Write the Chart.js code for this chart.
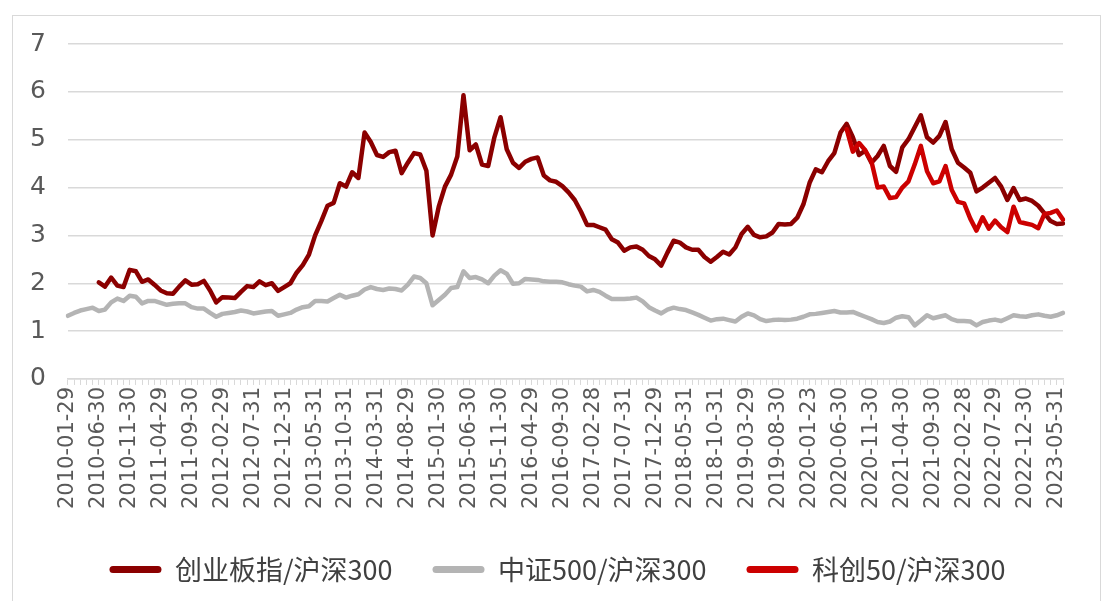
<!DOCTYPE html>
<html>
<head>
<meta charset="utf-8">
<script src="https://cdn.jsdelivr.net/npm/chart.js@4"></script>
<style>
    html, body { margin: 0; padding: 0; background: #ffffff; }
    #wrap { position: relative; width: 1112px; height: 601px; overflow: hidden; }
    #frame { position: absolute; left: 12px; top: 15px; width: 1087px; height: 620px; border: 1px solid #d9d9d9; }
    #ratioChart { position: absolute; left: 0; top: 0; }
</style>
</head>
<body>
<div id="wrap">
    <div id="frame"></div>
    <canvas id="ratioChart" width="1112" height="601"></canvas>
</div>
<script>
// month-end dates, 2010-01 .. 2023-06
const dates = [
    '2010-01-29', '2010-02-26', '2010-03-31', '2010-04-30', '2010-05-31', '2010-06-30', '2010-07-30', '2010-08-31', '2010-09-30', '2010-10-29', '2010-11-30', '2010-12-31',
    '2011-01-31', '2011-02-28', '2011-03-31', '2011-04-29', '2011-05-31', '2011-06-30', '2011-07-29', '2011-08-31', '2011-09-30', '2011-10-31', '2011-11-30', '2011-12-30',
    '2012-01-31', '2012-02-29', '2012-03-30', '2012-04-27', '2012-05-31', '2012-06-29', '2012-07-31', '2012-08-31', '2012-09-28', '2012-10-31', '2012-11-30', '2012-12-31',
    '2013-01-31', '2013-02-28', '2013-03-29', '2013-04-26', '2013-05-31', '2013-06-28', '2013-07-31', '2013-08-30', '2013-09-30', '2013-10-31', '2013-11-29', '2013-12-31',
    '2014-01-30', '2014-02-28', '2014-03-31', '2014-04-30', '2014-05-30', '2014-06-30', '2014-07-31', '2014-08-29', '2014-09-30', '2014-10-31', '2014-11-28', '2014-12-31',
    '2015-01-30', '2015-02-27', '2015-03-31', '2015-04-30', '2015-05-29', '2015-06-30', '2015-07-31', '2015-08-31', '2015-09-30', '2015-10-30', '2015-11-30', '2015-12-31',
    '2016-01-29', '2016-02-29', '2016-03-31', '2016-04-29', '2016-05-31', '2016-06-30', '2016-07-29', '2016-08-31', '2016-09-30', '2016-10-31', '2016-11-30', '2016-12-30',
    '2017-01-26', '2017-02-28', '2017-03-31', '2017-04-28', '2017-05-31', '2017-06-30', '2017-07-31', '2017-08-31', '2017-09-29', '2017-10-31', '2017-11-30', '2017-12-29',
    '2018-01-31', '2018-02-28', '2018-03-30', '2018-04-27', '2018-05-31', '2018-06-29', '2018-07-31', '2018-08-31', '2018-09-28', '2018-10-31', '2018-11-30', '2018-12-28',
    '2019-01-31', '2019-02-28', '2019-03-29', '2019-04-30', '2019-05-31', '2019-06-28', '2019-07-31', '2019-08-30', '2019-09-30', '2019-10-31', '2019-11-29', '2019-12-31',
    '2020-01-23', '2020-02-28', '2020-03-31', '2020-04-30', '2020-05-29', '2020-06-30', '2020-07-31', '2020-08-31', '2020-09-30', '2020-10-30', '2020-11-30', '2020-12-31',
    '2021-01-29', '2021-02-26', '2021-03-31', '2021-04-30', '2021-05-31', '2021-06-30', '2021-07-30', '2021-08-31', '2021-09-30', '2021-10-29', '2021-11-30', '2021-12-31',
    '2022-01-28', '2022-02-28', '2022-03-31', '2022-04-29', '2022-05-31', '2022-06-30', '2022-07-29', '2022-08-31', '2022-09-30', '2022-10-31', '2022-11-30', '2022-12-30',
    '2023-01-31', '2023-02-28', '2023-03-31', '2023-04-28', '2023-05-31', '2023-06-30'
];

// 创业板指/沪深300
const chinextRatio = [
    null, null, null, null, null, 2.02, 1.93, 2.12, 1.95, 1.92, 2.28, 2.25,
    2.03, 2.08, 1.97, 1.85, 1.79, 1.78, 1.93, 2.06, 1.97, 1.98, 2.05, 1.85,
    1.60, 1.71, 1.70, 1.69, 1.82, 1.94, 1.92, 2.04, 1.96, 2.00, 1.84, 1.92,
    2.00, 2.22, 2.38, 2.60, 3.00, 3.30, 3.62, 3.68, 4.09, 4.02, 4.32, 4.20,
    5.15, 4.95, 4.68, 4.64, 4.74, 4.77, 4.30, 4.52, 4.72, 4.69, 4.35, 3.00,
    3.60, 4.02, 4.27, 4.65, 5.93, 4.78, 4.90, 4.48, 4.45, 5.05, 5.47, 4.80,
    4.52, 4.41, 4.54, 4.60, 4.63, 4.25, 4.15, 4.12, 4.03, 3.90, 3.74, 3.50,
    3.22, 3.22, 3.17, 3.12, 2.92, 2.85, 2.68, 2.75, 2.77, 2.70, 2.57, 2.50,
    2.37, 2.64, 2.89, 2.85, 2.75, 2.70, 2.70, 2.55, 2.45, 2.55, 2.66, 2.60,
    2.75, 3.03, 3.18, 3.01, 2.96, 2.98, 3.06, 3.24, 3.23, 3.24, 3.37, 3.65,
    4.10, 4.38, 4.32, 4.55, 4.72, 5.15, 5.33, 5.05, 4.68, 4.77, 4.52, 4.66,
    4.87, 4.45, 4.33, 4.84, 5.01, 5.26, 5.51, 5.05, 4.94, 5.08, 5.37, 4.80,
    4.52, 4.42, 4.31, 3.92, 4.00, 4.10, 4.20, 4.02, 3.74, 3.99, 3.74, 3.77,
    3.72, 3.62, 3.46, 3.30, 3.24, 3.25
];

// 中证500/沪深300
const csi500Ratio = [
    1.32, 1.38, 1.43, 1.46, 1.49, 1.42, 1.45, 1.60, 1.68, 1.63, 1.74, 1.72,
    1.58, 1.63, 1.63, 1.59, 1.55, 1.57, 1.58, 1.58, 1.50, 1.47, 1.47, 1.38,
    1.30, 1.36, 1.38, 1.40, 1.43, 1.41, 1.37, 1.39, 1.41, 1.42, 1.32, 1.35,
    1.38, 1.45, 1.50, 1.52, 1.63, 1.63, 1.62, 1.69, 1.76, 1.70, 1.74, 1.77,
    1.87, 1.92, 1.88, 1.86, 1.89, 1.88, 1.85, 1.97, 2.14, 2.11, 2.00, 1.54,
    1.65, 1.76, 1.90, 1.92, 2.25, 2.11, 2.13, 2.08, 2.00, 2.16, 2.27, 2.20,
    1.99, 2.00, 2.09, 2.08, 2.07, 2.04, 2.03, 2.03, 2.02, 1.98, 1.95, 1.93,
    1.83, 1.86, 1.82, 1.74, 1.67, 1.67, 1.67, 1.68, 1.70, 1.62, 1.50, 1.43,
    1.37, 1.45, 1.49, 1.46, 1.44, 1.39, 1.34, 1.28, 1.22, 1.25, 1.26, 1.23,
    1.20, 1.30, 1.37, 1.33, 1.25, 1.21, 1.23, 1.24, 1.23, 1.24, 1.26, 1.30,
    1.35, 1.36, 1.38, 1.40, 1.42, 1.39, 1.39, 1.40, 1.35, 1.30, 1.25, 1.19,
    1.17, 1.20, 1.28, 1.31, 1.29, 1.12, 1.22, 1.33, 1.27, 1.30, 1.33, 1.25,
    1.21, 1.21, 1.20, 1.12, 1.19, 1.22, 1.24, 1.21, 1.27, 1.33, 1.31, 1.30,
    1.33, 1.35, 1.32, 1.30, 1.33, 1.38
];

// 科创50/沪深300, starts 2020-07
const star50Ratio = [
    null, null, null, null, null, null, null, null, null, null, null, null,
    null, null, null, null, null, null, null, null, null, null, null, null,
    null, null, null, null, null, null, null, null, null, null, null, null,
    null, null, null, null, null, null, null, null, null, null, null, null,
    null, null, null, null, null, null, null, null, null, null, null, null,
    null, null, null, null, null, null, null, null, null, null, null, null,
    null, null, null, null, null, null, null, null, null, null, null, null,
    null, null, null, null, null, null, null, null, null, null, null, null,
    null, null, null, null, null, null, null, null, null, null, null, null,
    null, null, null, null, null, null, null, null, null, null, null, null,
    null, null, null, null, null, null, 5.22, 4.75, 4.93, 4.78, 4.55, 4.00,
    4.02, 3.78, 3.80, 4.00, 4.13, 4.48, 4.87, 4.34, 4.09, 4.13, 4.45, 3.95,
    3.70, 3.67, 3.35, 3.10, 3.38, 3.14, 3.31, 3.17, 3.07, 3.60, 3.28, 3.25,
    3.22, 3.15, 3.45, 3.47, 3.52, 3.33
];

const seriesNames = ['创业板指/沪深300', '中证500/沪深300', '科创50/沪深300'];
const seriesColors = ['#8B0000', '#B4B4B4', '#CC0000'];

const labelEvery = 5;
const fontCJK = '"Noto Sans CJK SC", "DejaVu Sans", sans-serif';
const fontNum = '"DejaVu Sans", sans-serif';

// legend: fixed height box, nudged right/down so it sits like the original
const legendPlace = {
    id: 'legendPlace',
    beforeInit(chart) {
        if (!chart.legend) return;
        const fit = chart.legend.fit;
        chart.legend.fit = function () {
            fit.bind(chart.legend)();
            this.height = 90;
        };
    },
    afterLayout(chart) {
        const lg = chart.legend;
        if (!lg) return;
        lg.left += 22;
        lg.right += 22;
        lg.top += 5;
        lg.bottom += 5;
    }
};

function lineSet(i, data, order) {
    return {
        label: seriesNames[i],
        data: data,
        borderColor: seriesColors[i],
        backgroundColor: seriesColors[i],
        borderWidth: 4.5,
        pointRadius: 0,
        pointHoverRadius: 0,
        tension: 0,
        borderJoinStyle: 'round',
        borderCapStyle: 'round',
        spanGaps: false,
        order: order
    };
}

const ctx = document.getElementById('ratioChart').getContext('2d');
const ratioChart = new Chart(ctx, {
    type: 'line',
    data: {
        labels: dates,
        datasets: [
            lineSet(0, chinextRatio, 1),
            lineSet(1, csi500Ratio, 2),
            lineSet(2, star50Ratio, 0)
        ]
    },
    plugins: [legendPlace],
    options: {
        responsive: false,
        animation: false,
        layout: {
            padding: { left: 8, right: 49, top: 44, bottom: 0 }
        },
        scales: {
            x: {
                grid: {
                    display: true,
                    drawOnChartArea: false,
                    drawTicks: true,
                    tickLength: 6,
                    color: '#d9d9d9',
                    lineWidth: 1
                },
                border: { display: true, color: '#d9d9d9', width: 1.5 },
                ticks: {
                    autoSkip: false,
                    maxRotation: 90,
                    minRotation: 90,
                    padding: 2,
                    color: '#595959',
                    font: { family: fontNum, size: 21 },
                    callback: function (value, index) {
                        return index % labelEvery === 0 ? dates[index] : '';
                    }
                }
            },
            y: {
                min: 0,
                max: 7,
                grid: { color: '#d9d9d9', lineWidth: 1.5, drawTicks: false },
                border: { display: false },
                ticks: {
                    stepSize: 1,
                    padding: 22,
                    color: '#595959',
                    font: { family: fontNum, size: 25 }
                }
            }
        },
        plugins: {
            tooltip: { enabled: false },
            legend: {
                position: 'bottom',
                labels: {
                    boxWidth: 52,
                    boxHeight: 7,
                    useBorderRadius: true,
                    borderRadius: 3.5,
                    padding: 40,
                    color: '#404040',
                    font: { family: fontCJK, size: 27 },
                    sort: function (a, b) { return a.datasetIndex - b.datasetIndex; },
                    generateLabels: function (chart) {
                        const items = Chart.defaults.plugins.legend.labels.generateLabels(chart);
                        items.forEach(function (item) { item.lineWidth = 0; });
                        return items;
                    }
                }
            }
        }
    }
});
</script>
</body>
</html>
